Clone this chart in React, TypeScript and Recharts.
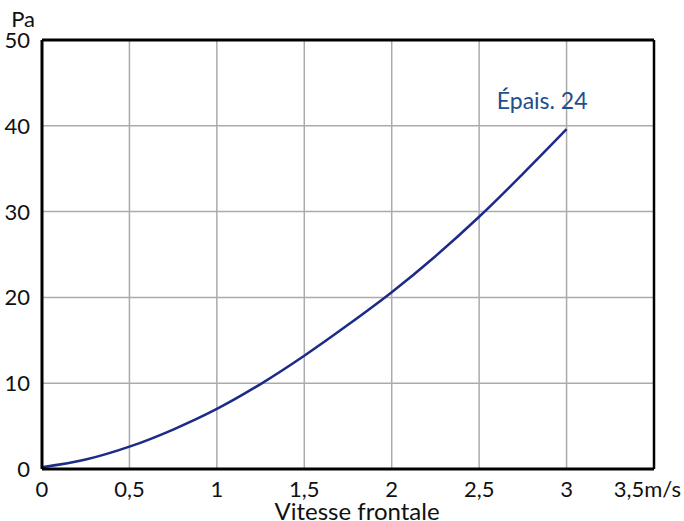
import { LineChart, Line, XAxis, YAxis, CartesianGrid, ReferenceLine, LabelList } from 'recharts'

// vitesse frontale (m/s) et perte de charge (Pa)
const vitesse = [0, 0.25, 0.5, 0.75, 1, 1.25, 1.5, 1.75, 2, 2.25, 2.5, 2.75, 3]
const pression = [0.2, 1.1, 2.6, 4.6, 7.0, 9.9, 13.2, 16.8, 20.6, 24.8, 29.4, 34.4, 39.6]
const xTicks = [0, 0.5, 1, 1.5, 2, 2.5, 3, 3.5]
const yTicks = [0, 10, 20, 30, 40, 50]
const serieNom = 'Épais. 24'

const data = vitesse.map((v, i) => ({ v, pa: pression[i] }))

const FONT = 'Lato, "Open Sans", sans-serif'
const fmt = (n: number) => String(n).replace('.', ',')

function XTick(props: any) {
  const { x, y, payload } = props
  const last = payload.value === 3.5
  return (
    <text
      x={last ? x + 27 : x}
      y={y}
      dy="0.71em"
      textAnchor={last ? 'end' : 'middle'}
      fontSize={22}
      fontFamily={FONT}
      fill="#111"
    >
      {last ? fmt(payload.value) + 'm/s' : fmt(payload.value)}
    </text>
  )
}

function YTick(props: any) {
  const { x, y, payload } = props
  return (
    <text x={x} y={y} dy="0.36em" textAnchor="end" fontSize={22} fontFamily={FONT} fill="#111">
      {payload.value}
    </text>
  )
}

function EndLabel(props: any) {
  const { x, y, index } = props
  if (index !== vitesse.length - 1) return null
  return (
    <text x={x + 21} y={y - 20} textAnchor="end" fontSize={23} fontFamily={FONT} fill="#1f4e8c">
      {serieNom}
    </text>
  )
}

export default function App() {
  return (
    <div style={{ position: 'absolute', left: 0, top: 0, width: 684, height: 521, overflow: 'hidden', background: '#fff' }}>
      <LineChart width={684} height={521} data={data} margin={{ top: 40, right: 30, left: 0, bottom: 0 }}>
        <CartesianGrid stroke="#ababab" strokeWidth={1.5} />
        <XAxis
          dataKey="v"
          type="number"
          domain={[0, 3.5]}
          ticks={xTicks}
          height={52}
          tickLine={false}
          tickMargin={6}
          axisLine={{ stroke: '#000', strokeWidth: 3 }}
          tick={<XTick />}
        />
        <YAxis
          type="number"
          domain={[0, 50]}
          ticks={yTicks}
          width={42}
          tickLine={false}
          tickMargin={6}
          axisLine={{ stroke: '#000', strokeWidth: 3 }}
          tick={<YTick />}
        />
        <ReferenceLine y={50} stroke="#000" strokeWidth={3} />
        <ReferenceLine x={3.5} stroke="#000" strokeWidth={2.5} />
        <Line
          dataKey="pa"
          type="monotone"
          stroke="#1c2a88"
          strokeWidth={2.5}
          dot={false}
          isAnimationActive={false}
        >
          <LabelList dataKey="pa" content={<EndLabel />} />
        </Line>
      </LineChart>
      <svg width={684} height={521} style={{ position: 'absolute', left: 0, top: 0, pointerEvents: 'none' }}>
        <text x={35} y={27} textAnchor="end" fontSize={22} fontFamily={FONT} fill="#111">Pa</text>
        <text x={357} y={520} textAnchor="middle" fontSize={24} fontFamily={FONT} fill="#111">Vitesse frontale</text>
      </svg>
    </div>
  )
}
